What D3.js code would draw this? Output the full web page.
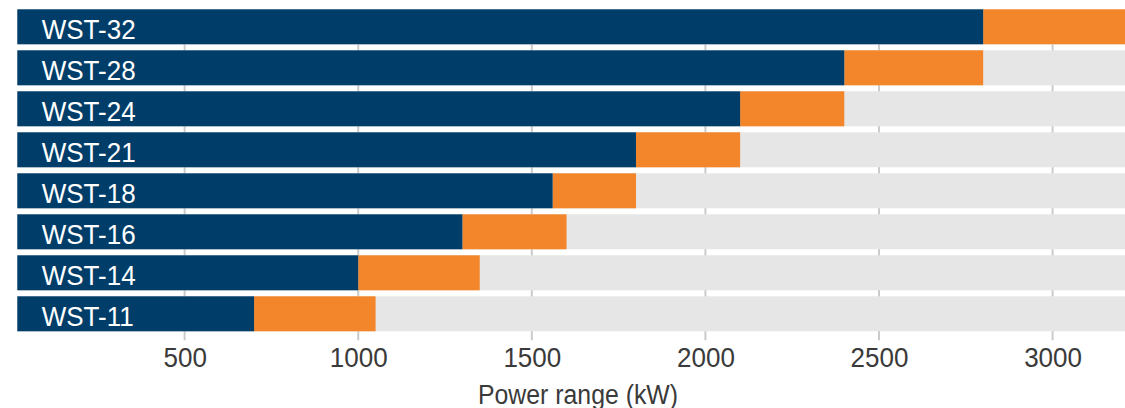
<!DOCTYPE html>
<html>
<head>
<meta charset="utf-8">
<script src="https://cdn.jsdelivr.net/npm/d3@7"></script>
<style>
  html, body { margin: 0; padding: 0; background: #ffffff; }
  svg { display: block; }
  text { font-family: "Liberation Sans", Arial, Helvetica, sans-serif; }
</style>
</head>
<body>
<svg id="chart" width="1125" height="408"></svg>
<script>
// ---- data ----
const models = ["WST-32", "WST-28", "WST-24", "WST-21", "WST-18", "WST-16", "WST-14", "WST-11"];
const rangeStart = [2800, 2400, 2100, 1800, 1560, 1300, 1000, 700];   // end of dark bar (kW)
const rangeEnd   = [3210, 2800, 2400, 2100, 1800, 1600, 1350, 1050];  // end of orange bar (kW)
const tickValues = [500, 1000, 1500, 2000, 2500, 3000];
const axisTitle = "Power range (kW)";
const axisMin = 18, axisMax = 3210;

// ---- layout ----
const svg = d3.select("#chart");
const plotLeft = 17.3, plotRight = 1125.5, plotTop = 9.3, plotBottom = 331.3;
const colors = { base: "#003d69", range: "#f3852a", bg: "#e6e6e6", grid: "#cbcbcb", text: "#3a3a3a" };

const x = d3.scaleLinear().domain([axisMin, axisMax]).range([plotLeft, plotRight]).clamp(true);
const y = d3.scaleBand().domain(models).range([plotTop, plotBottom]).paddingInner(6 / 41).paddingOuter(0);
const bandH = y.bandwidth();

// gridlines (behind bars)
svg.append("g").selectAll("line").data(tickValues).join("line")
  .attr("x1", d => x(d)).attr("x2", d => x(d))
  .attr("y1", plotTop + bandH).attr("y2", plotBottom + 9)
  .attr("stroke", colors.grid).attr("stroke-width", 2);

const rows = svg.append("g").selectAll("g").data(models).join("g")
  .attr("transform", d => `translate(0,${y(d)})`);

rows.append("rect").attr("x", x(axisMin)).attr("y", 0)
  .attr("width", x(axisMax) - x(axisMin)).attr("height", bandH).attr("fill", colors.bg);
rows.append("rect").attr("x", (d, i) => x(rangeStart[i])).attr("y", 0)
  .attr("width", (d, i) => x(rangeEnd[i]) - x(rangeStart[i])).attr("height", bandH).attr("fill", colors.range);
rows.append("rect").attr("x", x(axisMin)).attr("y", 0)
  .attr("width", (d, i) => x(rangeStart[i]) - x(axisMin)).attr("height", bandH).attr("fill", colors.base);
rows.append("text")
  .attr("transform", `translate(41.7,${bandH / 2 + 12.5}) scale(0.93,1)`)
  .attr("font-size", 28).attr("fill", "#ffffff")
  .text(d => d);

// x axis
const axis = d3.axisBottom(x).tickValues(tickValues).tickSize(0).tickPadding(0).tickFormat(d3.format("d"));
const gAxis = svg.append("g").attr("transform", `translate(0,${plotBottom})`).call(axis);
gAxis.select(".domain").remove();
gAxis.selectAll(".tick text").remove();
gAxis.selectAll(".tick").append("text")
  .attr("transform", "translate(0,36) scale(0.93,1)")
  .attr("text-anchor", "middle")
  .attr("font-size", 28).attr("fill", colors.text)
  .text(d => d3.format("d")(d));

svg.append("text")
  .attr("transform", "translate(578,404) scale(0.92,1)")
  .attr("text-anchor", "middle")
  .attr("font-size", 27).attr("fill", colors.text)
  .text(axisTitle);
</script>
</body>
</html>
